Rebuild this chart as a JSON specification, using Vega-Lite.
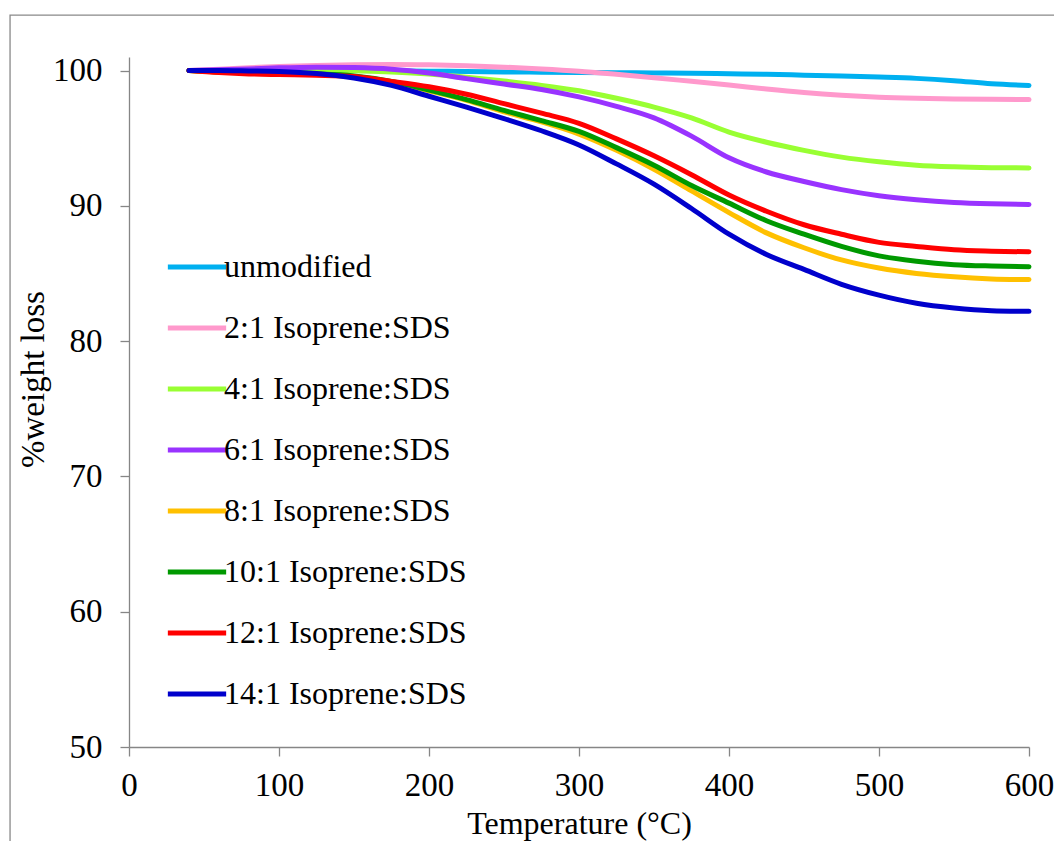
{
  "$schema": "https://vega.github.io/schema/vega-lite/v6.json",
  "autosize": "none",
  "padding": {"left": 129, "top": 57, "right": 25, "bottom": 94},
  "width": 900,
  "height": 690,
  "background": "white",
  "config": {
    "view": {"stroke": null},
    "font": "Liberation Serif",
    "axis": {
      "labelFont": "Liberation Serif",
      "labelFontSize": 33,
      "labelColor": "#000000",
      "labelFlush": false,
      "titleFont": "Liberation Serif",
      "titleFontSize": 32,
      "titleFontWeight": "normal",
      "titleColor": "#000000",
      "domainColor": "#868686",
      "domainWidth": 1.3,
      "tickColor": "#868686",
      "tickWidth": 1.3,
      "tickSize": 9,
      "grid": false
    },
    "legend": {
      "labelFont": "Liberation Serif",
      "labelFontSize": 32,
      "labelColor": "#000000",
      "labelLimit": 400
    }
  },
  "datasets": {
    "tga": [
      {"s": "unmodified", "t": 40, "w": 100}, {"s": "unmodified", "t": 60, "w": 100}, {"s": "unmodified", "t": 80, "w": 100}, {"s": "unmodified", "t": 100, "w": 100}, {"s": "unmodified", "t": 125, "w": 100}, {"s": "unmodified", "t": 150, "w": 100}, {"s": "unmodified", "t": 175, "w": 99.98}, {"s": "unmodified", "t": 200, "w": 99.95}, {"s": "unmodified", "t": 225, "w": 99.93}, {"s": "unmodified", "t": 250, "w": 99.9}, {"s": "unmodified", "t": 275, "w": 99.88}, {"s": "unmodified", "t": 300, "w": 99.86}, {"s": "unmodified", "t": 325, "w": 99.84}, {"s": "unmodified", "t": 350, "w": 99.82}, {"s": "unmodified", "t": 375, "w": 99.8}, {"s": "unmodified", "t": 400, "w": 99.76}, {"s": "unmodified", "t": 425, "w": 99.72}, {"s": "unmodified", "t": 450, "w": 99.66}, {"s": "unmodified", "t": 475, "w": 99.6}, {"s": "unmodified", "t": 500, "w": 99.52}, {"s": "unmodified", "t": 525, "w": 99.42}, {"s": "unmodified", "t": 550, "w": 99.25}, {"s": "unmodified", "t": 575, "w": 99.02}, {"s": "unmodified", "t": 600, "w": 98.9},

      {"s": "2:1 Isoprene:SDS", "t": 40, "w": 100}, {"s": "2:1 Isoprene:SDS", "t": 60, "w": 100.1}, {"s": "2:1 Isoprene:SDS", "t": 80, "w": 100.2}, {"s": "2:1 Isoprene:SDS", "t": 100, "w": 100.3}, {"s": "2:1 Isoprene:SDS", "t": 125, "w": 100.38}, {"s": "2:1 Isoprene:SDS", "t": 150, "w": 100.43}, {"s": "2:1 Isoprene:SDS", "t": 175, "w": 100.45}, {"s": "2:1 Isoprene:SDS", "t": 200, "w": 100.42}, {"s": "2:1 Isoprene:SDS", "t": 225, "w": 100.35}, {"s": "2:1 Isoprene:SDS", "t": 250, "w": 100.25}, {"s": "2:1 Isoprene:SDS", "t": 275, "w": 100.12}, {"s": "2:1 Isoprene:SDS", "t": 300, "w": 99.95}, {"s": "2:1 Isoprene:SDS", "t": 325, "w": 99.72}, {"s": "2:1 Isoprene:SDS", "t": 350, "w": 99.47}, {"s": "2:1 Isoprene:SDS", "t": 375, "w": 99.2}, {"s": "2:1 Isoprene:SDS", "t": 400, "w": 98.93}, {"s": "2:1 Isoprene:SDS", "t": 425, "w": 98.63}, {"s": "2:1 Isoprene:SDS", "t": 450, "w": 98.37}, {"s": "2:1 Isoprene:SDS", "t": 475, "w": 98.17}, {"s": "2:1 Isoprene:SDS", "t": 500, "w": 98.03}, {"s": "2:1 Isoprene:SDS", "t": 525, "w": 97.95}, {"s": "2:1 Isoprene:SDS", "t": 550, "w": 97.9}, {"s": "2:1 Isoprene:SDS", "t": 575, "w": 97.87}, {"s": "2:1 Isoprene:SDS", "t": 600, "w": 97.85},

      {"s": "4:1 Isoprene:SDS", "t": 40, "w": 100}, {"s": "4:1 Isoprene:SDS", "t": 60, "w": 100}, {"s": "4:1 Isoprene:SDS", "t": 80, "w": 100}, {"s": "4:1 Isoprene:SDS", "t": 100, "w": 100}, {"s": "4:1 Isoprene:SDS", "t": 125, "w": 100}, {"s": "4:1 Isoprene:SDS", "t": 150, "w": 99.98}, {"s": "4:1 Isoprene:SDS", "t": 175, "w": 99.9}, {"s": "4:1 Isoprene:SDS", "t": 200, "w": 99.75}, {"s": "4:1 Isoprene:SDS", "t": 225, "w": 99.5}, {"s": "4:1 Isoprene:SDS", "t": 250, "w": 99.22}, {"s": "4:1 Isoprene:SDS", "t": 275, "w": 98.9}, {"s": "4:1 Isoprene:SDS", "t": 300, "w": 98.5}, {"s": "4:1 Isoprene:SDS", "t": 325, "w": 97.95}, {"s": "4:1 Isoprene:SDS", "t": 350, "w": 97.3}, {"s": "4:1 Isoprene:SDS", "t": 375, "w": 96.5}, {"s": "4:1 Isoprene:SDS", "t": 400, "w": 95.45}, {"s": "4:1 Isoprene:SDS", "t": 425, "w": 94.7}, {"s": "4:1 Isoprene:SDS", "t": 450, "w": 94.1}, {"s": "4:1 Isoprene:SDS", "t": 475, "w": 93.6}, {"s": "4:1 Isoprene:SDS", "t": 500, "w": 93.25}, {"s": "4:1 Isoprene:SDS", "t": 525, "w": 93.0}, {"s": "4:1 Isoprene:SDS", "t": 550, "w": 92.88}, {"s": "4:1 Isoprene:SDS", "t": 575, "w": 92.82}, {"s": "4:1 Isoprene:SDS", "t": 600, "w": 92.8},

      {"s": "6:1 Isoprene:SDS", "t": 40, "w": 100}, {"s": "6:1 Isoprene:SDS", "t": 60, "w": 100.05}, {"s": "6:1 Isoprene:SDS", "t": 80, "w": 100.12}, {"s": "6:1 Isoprene:SDS", "t": 100, "w": 100.2}, {"s": "6:1 Isoprene:SDS", "t": 125, "w": 100.25}, {"s": "6:1 Isoprene:SDS", "t": 150, "w": 100.22}, {"s": "6:1 Isoprene:SDS", "t": 175, "w": 100.1}, {"s": "6:1 Isoprene:SDS", "t": 200, "w": 99.82}, {"s": "6:1 Isoprene:SDS", "t": 225, "w": 99.4}, {"s": "6:1 Isoprene:SDS", "t": 250, "w": 99.0}, {"s": "6:1 Isoprene:SDS", "t": 275, "w": 98.6}, {"s": "6:1 Isoprene:SDS", "t": 300, "w": 98.05}, {"s": "6:1 Isoprene:SDS", "t": 325, "w": 97.35}, {"s": "6:1 Isoprene:SDS", "t": 350, "w": 96.5}, {"s": "6:1 Isoprene:SDS", "t": 375, "w": 95.15}, {"s": "6:1 Isoprene:SDS", "t": 400, "w": 93.55}, {"s": "6:1 Isoprene:SDS", "t": 425, "w": 92.5}, {"s": "6:1 Isoprene:SDS", "t": 450, "w": 91.8}, {"s": "6:1 Isoprene:SDS", "t": 475, "w": 91.2}, {"s": "6:1 Isoprene:SDS", "t": 500, "w": 90.75}, {"s": "6:1 Isoprene:SDS", "t": 525, "w": 90.45}, {"s": "6:1 Isoprene:SDS", "t": 550, "w": 90.25}, {"s": "6:1 Isoprene:SDS", "t": 575, "w": 90.15}, {"s": "6:1 Isoprene:SDS", "t": 600, "w": 90.1},

      {"s": "8:1 Isoprene:SDS", "t": 40, "w": 100}, {"s": "8:1 Isoprene:SDS", "t": 60, "w": 99.9}, {"s": "8:1 Isoprene:SDS", "t": 80, "w": 99.85}, {"s": "8:1 Isoprene:SDS", "t": 100, "w": 99.8}, {"s": "8:1 Isoprene:SDS", "t": 125, "w": 99.75}, {"s": "8:1 Isoprene:SDS", "t": 150, "w": 99.55}, {"s": "8:1 Isoprene:SDS", "t": 175, "w": 99.15}, {"s": "8:1 Isoprene:SDS", "t": 200, "w": 98.5}, {"s": "8:1 Isoprene:SDS", "t": 225, "w": 97.8}, {"s": "8:1 Isoprene:SDS", "t": 250, "w": 96.95}, {"s": "8:1 Isoprene:SDS", "t": 275, "w": 96.2}, {"s": "8:1 Isoprene:SDS", "t": 300, "w": 95.3}, {"s": "8:1 Isoprene:SDS", "t": 325, "w": 94.1}, {"s": "8:1 Isoprene:SDS", "t": 350, "w": 92.7}, {"s": "8:1 Isoprene:SDS", "t": 375, "w": 91.1}, {"s": "8:1 Isoprene:SDS", "t": 400, "w": 89.5}, {"s": "8:1 Isoprene:SDS", "t": 425, "w": 88.0}, {"s": "8:1 Isoprene:SDS", "t": 450, "w": 86.9}, {"s": "8:1 Isoprene:SDS", "t": 475, "w": 86.0}, {"s": "8:1 Isoprene:SDS", "t": 500, "w": 85.4}, {"s": "8:1 Isoprene:SDS", "t": 525, "w": 85.0}, {"s": "8:1 Isoprene:SDS", "t": 550, "w": 84.75}, {"s": "8:1 Isoprene:SDS", "t": 575, "w": 84.6}, {"s": "8:1 Isoprene:SDS", "t": 600, "w": 84.55},

      {"s": "10:1 Isoprene:SDS", "t": 40, "w": 100}, {"s": "10:1 Isoprene:SDS", "t": 60, "w": 99.9}, {"s": "10:1 Isoprene:SDS", "t": 80, "w": 99.85}, {"s": "10:1 Isoprene:SDS", "t": 100, "w": 99.8}, {"s": "10:1 Isoprene:SDS", "t": 125, "w": 99.75}, {"s": "10:1 Isoprene:SDS", "t": 150, "w": 99.6}, {"s": "10:1 Isoprene:SDS", "t": 175, "w": 99.2}, {"s": "10:1 Isoprene:SDS", "t": 200, "w": 98.55}, {"s": "10:1 Isoprene:SDS", "t": 225, "w": 97.85}, {"s": "10:1 Isoprene:SDS", "t": 250, "w": 97.05}, {"s": "10:1 Isoprene:SDS", "t": 275, "w": 96.3}, {"s": "10:1 Isoprene:SDS", "t": 300, "w": 95.5}, {"s": "10:1 Isoprene:SDS", "t": 325, "w": 94.3}, {"s": "10:1 Isoprene:SDS", "t": 350, "w": 93.0}, {"s": "10:1 Isoprene:SDS", "t": 375, "w": 91.5}, {"s": "10:1 Isoprene:SDS", "t": 400, "w": 90.2}, {"s": "10:1 Isoprene:SDS", "t": 425, "w": 88.9}, {"s": "10:1 Isoprene:SDS", "t": 450, "w": 87.9}, {"s": "10:1 Isoprene:SDS", "t": 475, "w": 87.0}, {"s": "10:1 Isoprene:SDS", "t": 500, "w": 86.3}, {"s": "10:1 Isoprene:SDS", "t": 525, "w": 85.9}, {"s": "10:1 Isoprene:SDS", "t": 550, "w": 85.65}, {"s": "10:1 Isoprene:SDS", "t": 575, "w": 85.55}, {"s": "10:1 Isoprene:SDS", "t": 600, "w": 85.5},

      {"s": "12:1 Isoprene:SDS", "t": 40, "w": 100}, {"s": "12:1 Isoprene:SDS", "t": 60, "w": 99.85}, {"s": "12:1 Isoprene:SDS", "t": 80, "w": 99.75}, {"s": "12:1 Isoprene:SDS", "t": 100, "w": 99.7}, {"s": "12:1 Isoprene:SDS", "t": 125, "w": 99.65}, {"s": "12:1 Isoprene:SDS", "t": 150, "w": 99.55}, {"s": "12:1 Isoprene:SDS", "t": 175, "w": 99.2}, {"s": "12:1 Isoprene:SDS", "t": 200, "w": 98.8}, {"s": "12:1 Isoprene:SDS", "t": 225, "w": 98.25}, {"s": "12:1 Isoprene:SDS", "t": 250, "w": 97.55}, {"s": "12:1 Isoprene:SDS", "t": 275, "w": 96.85}, {"s": "12:1 Isoprene:SDS", "t": 300, "w": 96.1}, {"s": "12:1 Isoprene:SDS", "t": 325, "w": 94.95}, {"s": "12:1 Isoprene:SDS", "t": 350, "w": 93.7}, {"s": "12:1 Isoprene:SDS", "t": 375, "w": 92.3}, {"s": "12:1 Isoprene:SDS", "t": 400, "w": 90.8}, {"s": "12:1 Isoprene:SDS", "t": 425, "w": 89.6}, {"s": "12:1 Isoprene:SDS", "t": 450, "w": 88.6}, {"s": "12:1 Isoprene:SDS", "t": 475, "w": 87.9}, {"s": "12:1 Isoprene:SDS", "t": 500, "w": 87.3}, {"s": "12:1 Isoprene:SDS", "t": 525, "w": 87.0}, {"s": "12:1 Isoprene:SDS", "t": 550, "w": 86.75}, {"s": "12:1 Isoprene:SDS", "t": 575, "w": 86.65}, {"s": "12:1 Isoprene:SDS", "t": 600, "w": 86.6},

      {"s": "14:1 Isoprene:SDS", "t": 40, "w": 100}, {"s": "14:1 Isoprene:SDS", "t": 60, "w": 100}, {"s": "14:1 Isoprene:SDS", "t": 80, "w": 99.97}, {"s": "14:1 Isoprene:SDS", "t": 100, "w": 99.93}, {"s": "14:1 Isoprene:SDS", "t": 125, "w": 99.78}, {"s": "14:1 Isoprene:SDS", "t": 150, "w": 99.45}, {"s": "14:1 Isoprene:SDS", "t": 175, "w": 98.9}, {"s": "14:1 Isoprene:SDS", "t": 200, "w": 98.1}, {"s": "14:1 Isoprene:SDS", "t": 225, "w": 97.3}, {"s": "14:1 Isoprene:SDS", "t": 250, "w": 96.45}, {"s": "14:1 Isoprene:SDS", "t": 275, "w": 95.55}, {"s": "14:1 Isoprene:SDS", "t": 300, "w": 94.5}, {"s": "14:1 Isoprene:SDS", "t": 325, "w": 93.1}, {"s": "14:1 Isoprene:SDS", "t": 350, "w": 91.6}, {"s": "14:1 Isoprene:SDS", "t": 375, "w": 89.8}, {"s": "14:1 Isoprene:SDS", "t": 400, "w": 87.9}, {"s": "14:1 Isoprene:SDS", "t": 425, "w": 86.4}, {"s": "14:1 Isoprene:SDS", "t": 450, "w": 85.3}, {"s": "14:1 Isoprene:SDS", "t": 475, "w": 84.2}, {"s": "14:1 Isoprene:SDS", "t": 500, "w": 83.4}, {"s": "14:1 Isoprene:SDS", "t": 525, "w": 82.8}, {"s": "14:1 Isoprene:SDS", "t": 550, "w": 82.45}, {"s": "14:1 Isoprene:SDS", "t": 575, "w": 82.25}, {"s": "14:1 Isoprene:SDS", "t": 600, "w": 82.2}
    ]
  },
  "layer": [
    {
      "data": {"values": [{}]},
      "mark": {"type": "rect", "filled": false, "stroke": "#898989", "strokeWidth": 1.3, "clip": false},
      "encoding": {
        "x": {"datum": -79.3, "type": "quantitative", "scale": {"domain": [0, 600]}},
        "x2": {"datum": 800},
        "y": {"datum": 104.1, "type": "quantitative", "scale": {"domain": [50, 101]}},
        "y2": {"datum": 0}
      }
    },
    {
      "data": {"name": "tga"},
      "mark": {"type": "line", "interpolate": "monotone", "strokeWidth": 5, "strokeCap": "round", "strokeJoin": "round"},
      "encoding": {
        "x": {
          "field": "t", "type": "quantitative",
          "scale": {"domain": [0, 600], "nice": false, "zero": false},
          "axis": {"values": [0, 100, 200, 300, 400, 500, 600], "labelPadding": 13, "title": "Temperature (°C)", "titleY": 86, "titleBaseline": "alphabetic"}
        },
        "y": {
          "field": "w", "type": "quantitative",
          "scale": {"domain": [50, 101], "nice": false, "zero": false},
          "axis": {"values": [50, 60, 70, 80, 90, 100], "labelPadding": 18, "title": "%weight loss", "titleFontSize": 33, "titleX": -86, "titleY": 322, "titleBaseline": "alphabetic", "titleAngle": 270, "titleAlign": "center"}
        },
        "color": {
          "field": "s", "type": "nominal",
          "scale": {
            "domain": ["unmodified", "2:1 Isoprene:SDS", "4:1 Isoprene:SDS", "6:1 Isoprene:SDS", "8:1 Isoprene:SDS", "10:1 Isoprene:SDS", "12:1 Isoprene:SDS", "14:1 Isoprene:SDS"],
            "range": ["#00B0F0", "#FF99CC", "#99FF33", "#9933FF", "#FFC000", "#009900", "#FF0000", "#0000CC"]
          },
          "legend": {
            "title": null,
            "orient": "none",
            "legendX": 36,
            "legendY": 178,
            "padding": 0,
            "symbolType": "stroke",
            "symbolSize": 3400,
            "symbolStrokeWidth": 5,
            "rowPadding": 13,
            "labelOffset": -5
          }
        },
        "order": {"field": "t", "type": "quantitative"}
      }
    }
  ]
}
